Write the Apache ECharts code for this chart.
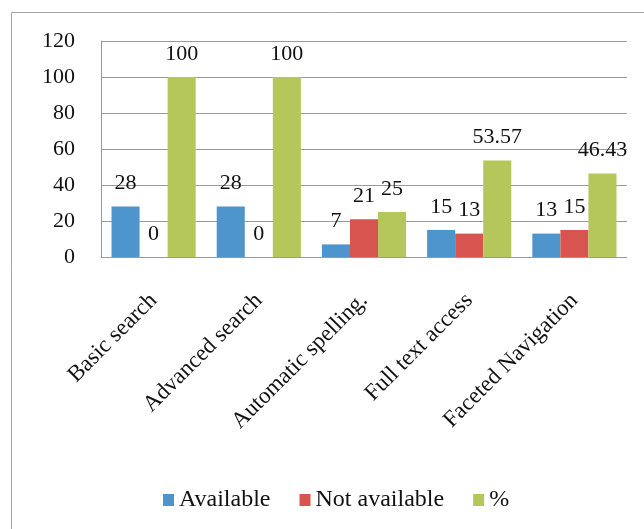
<!DOCTYPE html>
<html>
<head>
<meta charset="utf-8">
<script src="https://cdn.jsdelivr.net/npm/echarts@6/dist/echarts.min.js"></script>
<style>
  html, body { margin: 0; padding: 0; background: #fff; }
  #chart { width: 644px; height: 529px; }
</style>
</head>
<body>
<div id="chart"></div>
<script>
// Search features offered by the catalogues
const categories = ['Basic search', 'Advanced search', 'Automatic spelling.', 'Full text access', 'Faceted Navigation'];
const available = [28, 28, 7, 15, 13];
const notAvailable = [0, 0, 21, 13, 15];
const percent = [100, 100, 25, 53.57, 46.43];
const seriesNames = ['Available', 'Not available', '%'];
const yTicks = { min: 0, max: 120, interval: 20 };

const FONT = 'Liberation Serif, Times New Roman, serif';
const GRID_COLOR = '#9a9a9a';

const labelStyle = {
  show: true,
  position: 'top',
  distance: 12,
  color: '#111',
  fontFamily: FONT,
  fontSize: 22
};

function barSeries(name, data, color) {
  return {
    name: name,
    type: 'bar',
    data: data,
    barGap: '0%',
    barCategoryGap: '20%',
    itemStyle: { color: color },
    label: labelStyle
  };
}

const chart = echarts.init(document.getElementById('chart'), null, { renderer: 'canvas' });
chart.setOption({
  animation: false,
  backgroundColor: '#fff',
  graphic: [{
    type: 'rect',
    shape: { x: 11.5, y: 12.5, width: 700, height: 600 },
    style: { fill: 'none', stroke: '#a6a6a6', lineWidth: 1 },
    silent: true,
    z: -1
  }],
  grid: { left: 101, right: 17, top: 41, bottom: 272, containLabel: false },
  legend: {
    data: seriesNames,
    left: 158,
    top: 483,
    icon: 'rect',
    itemWidth: 11,
    itemHeight: 12,
    itemGap: 29,
    textStyle: { fontFamily: FONT, fontSize: 24, color: '#111' }
  },
  xAxis: {
    type: 'category',
    data: categories,
    axisLine: { show: true, lineStyle: { color: GRID_COLOR } },
    axisTick: { show: false },
    axisLabel: {
      rotate: 45,
      margin: 40,
      interval: 0,
      color: '#111',
      fontFamily: FONT,
      fontSize: 23
    }
  },
  yAxis: {
    type: 'value',
    min: yTicks.min,
    max: yTicks.max,
    interval: yTicks.interval,
    axisLine: { show: true, lineStyle: { color: GRID_COLOR } },
    axisTick: { show: false },
    splitLine: { show: true, lineStyle: { color: GRID_COLOR } },
    axisLabel: {
      margin: 26,
      color: '#111',
      fontFamily: FONT,
      fontSize: 22
    }
  },
  series: [
    barSeries(seriesNames[0], available, '#4E95CE'),
    barSeries(seriesNames[1], notAvailable, '#D8554F'),
    barSeries(seriesNames[2], percent, '#B5C65B')
  ]
});
</script>
</body>
</html>
